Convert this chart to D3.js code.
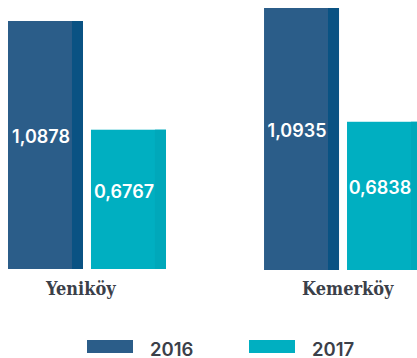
<!DOCTYPE html>
<html>
<head>
<meta charset="utf-8">
<script src="https://cdn.jsdelivr.net/npm/d3@7"></script>
<style>
  html, body { margin: 0; padding: 0; background: #fff; }
  svg { display: block; }
</style>
</head>
<body>
<div id="chart"></div>
<script>
// Sites and years
const categories = ["Yeniköy", "Kemerköy"];
const years = ["2016", "2017"];
// Values per site, one array per year
const values2016 = [1.0878, 1.0935];
const values2017 = [0.6767, 0.6838];
// Axis floor the bars start from
const axisFloor = 0.15;

const W = 417, H = 358;
const colors = { "2016": "#2b5d89", "2017": "#00afc1" };
const edgeColors = { "2016": "#0a5283", "2017": "#00a8ba" };
const fmt = v => d3.format(".4f")(v).replace(".", ",");

const svg = d3.select("#chart").append("svg")
  .attr("width", W).attr("height", H);

// Group and series bands
const x0 = d3.scaleBand().domain(categories)
  .range([8, 422]).paddingInner(0.383).paddingOuter(0);
const x1 = d3.scaleBand().domain(years)
  .range([0, x0.bandwidth()]).paddingInner(0.0964).paddingOuter(0);

// Each site is its own small panel with its own vertical scale
const panels = {
  "Yeniköy": { top: 21, bottom: 269 },
  "Kemerköy": { top: 8, bottom: 270 }
};

const rows = categories.map((c, i) => ({
  cat: c,
  vals: [{ year: "2016", v: values2016[i] }, { year: "2017", v: values2017[i] }]
}));

const stripW = 11;

rows.forEach(row => {
  const p = panels[row.cat];
  const maxV = d3.max(row.vals, d => d.v);
  const y = d3.scaleLinear().domain([axisFloor, maxV]).range([p.bottom, p.top]);
  const g = svg.append("g").attr("transform", `translate(${x0(row.cat)},0)`);

  const bars = g.selectAll("g.bar").data(row.vals).join("g").attr("class", "bar");
  bars.append("rect")
    .attr("x", d => x1(d.year))
    .attr("y", d => y(d.v))
    .attr("width", x1.bandwidth())
    .attr("height", d => y(axisFloor) - y(d.v))
    .attr("fill", d => colors[d.year]);
  bars.append("rect")
    .attr("x", d => x1(d.year) + x1.bandwidth() - stripW)
    .attr("y", d => y(d.v))
    .attr("width", stripW)
    .attr("height", d => y(axisFloor) - y(d.v))
    .attr("fill", d => edgeColors[d.year]);
  bars.append("text")
    .attr("x", d => x1(d.year) + (x1.bandwidth() - stripW) / 2 + 1)
    .attr("y", d => (y(d.v) + y(axisFloor)) / 2 - 8)
    .attr("dy", "0.36em")
    .attr("text-anchor", "middle")
    .attr("fill", "#fff")
    .style("font-family", "Inter, 'Open Sans', sans-serif")
    .style("font-weight", 600)
    .style("font-size", "18px")
    .text(d => fmt(d.v));

  g.append("text")
    .attr("x", 38)
    .attr("y", 294.5)
    .attr("fill", "#3b4049")
    .style("font-family", "'DejaVu Serif Condensed', 'DejaVu Serif', serif")
    .style("font-stretch", "condensed")
    .style("font-weight", 700)
    .style("font-size", "18px")
    .text(row.cat);
});

// Legend
const legendX = d3.scaleOrdinal().domain(years).range([87, 249]);
const lg = svg.selectAll("g.legend").data(years).join("g")
  .attr("class", "legend")
  .attr("transform", d => `translate(${legendX(d)},340)`);
lg.append("rect")
  .attr("width", 46).attr("height", 13)
  .attr("fill", d => colors[d]);
lg.append("text")
  .attr("x", 63).attr("y", 15.5)
  .attr("fill", "#3b4049")
  .style("font-family", "Inter, 'Open Sans', sans-serif")
  .style("font-weight", 600)
  .style("font-size", "18.5px")
  .text(d => d);
</script>
</body>
</html>
